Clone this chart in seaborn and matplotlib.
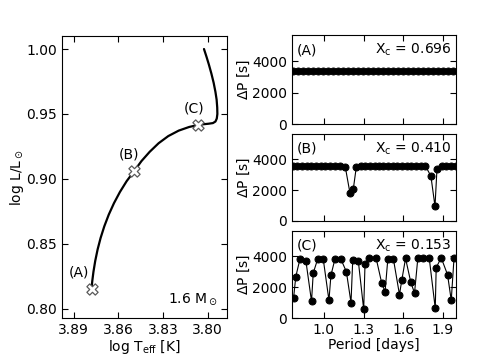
import matplotlib
matplotlib.use('Agg')
import matplotlib.pyplot as plt
import seaborn as sns

# evolutionary track (log Teff, log L/Lsun)
track_teff = [3.8781, 3.8776, 3.8768, 3.8756, 3.8740, 3.8720, 3.8695, 3.8665, 3.8630,
              3.8590, 3.8545, 3.8496, 3.8445, 3.8390, 3.8330, 3.8265, 3.8195, 3.8125,
              3.8063, 3.8030, 3.7995, 3.7965, 3.7948, 3.7939, 3.7935, 3.7936, 3.7940,
              3.7948, 3.7960, 3.7975, 3.7992, 3.8008, 3.8025]
track_logl = [0.8154, 0.8214, 0.8286, 0.8370, 0.8458, 0.8546, 0.8636, 0.8726, 0.8814,
              0.8900, 0.8983, 0.9058, 0.9138, 0.9209, 0.9275, 0.9330, 0.9372, 0.9400,
              0.9416, 0.9421, 0.9425, 0.9430, 0.9442, 0.9465, 0.9500, 0.9550, 0.9610,
              0.9670, 0.9740, 0.9810, 0.9880, 0.9940, 1.0000]

# models marked on the track
model_labels = ['(A)', '(B)', '(C)']
model_teff = [3.8781, 3.8496, 3.8063]
model_logl = [0.8154, 0.9058, 0.9416]
model_xc = ['0.696', '0.410', '0.153']

# period spacing patterns
period_a = [0.765, 0.803, 0.841, 0.879, 0.917, 0.955, 0.993, 1.031, 1.069, 1.107, 1.145,
            1.183, 1.221, 1.259, 1.297, 1.335, 1.373, 1.411, 1.449, 1.487, 1.525, 1.563,
            1.601, 1.639, 1.677, 1.715, 1.753, 1.791, 1.829, 1.867, 1.905, 1.943, 1.981]
dp_a = [3390, 3390, 3390, 3390, 3390, 3390, 3390, 3390, 3390, 3390, 3390,
        3390, 3390, 3390, 3390, 3390, 3390, 3390, 3390, 3390, 3390, 3390,
        3390, 3390, 3390, 3390, 3390, 3390, 3390, 3390, 3390, 3390, 3390]

period_b = [0.762, 0.797, 0.833, 0.869, 0.904, 0.939, 0.975, 1.010, 1.046, 1.081, 1.119,
            1.162, 1.197, 1.222, 1.245, 1.279, 1.314, 1.349, 1.385, 1.415, 1.450, 1.486,
            1.522, 1.557, 1.592, 1.628, 1.663, 1.699, 1.734, 1.769, 1.810, 1.841, 1.856,
            1.891, 1.926, 1.962, 1.997]
dp_b = [3560, 3560, 3560, 3560, 3560, 3560, 3560, 3560, 3560, 3560, 3560,
        3490, 1810, 2040, 3490, 3560, 3560, 3560, 3560, 3560, 3560, 3560,
        3560, 3560, 3560, 3560, 3560, 3560, 3560, 3560, 2910, 940, 3380,
        3560, 3560, 3560, 3560]

period_c = [0.770, 0.787, 0.818, 0.863, 0.906, 0.919, 0.952, 0.995, 1.038, 1.053, 1.084,
            1.127, 1.170, 1.205, 1.218, 1.260, 1.301, 1.311, 1.344, 1.395, 1.438, 1.463,
            1.484, 1.526, 1.572, 1.590, 1.618, 1.658, 1.686, 1.711, 1.752, 1.797, 1.843,
            1.850, 1.888, 1.936, 1.964, 1.985]
dp_c = [1290, 2690, 3810, 3730, 1080, 2920, 3810, 3810, 1150, 2770, 3850,
        3850, 3000, 1000, 3750, 3730, 560, 3480, 3890, 3890, 2250, 1710,
        3850, 3830, 1520, 2480, 3870, 2310, 1620, 3890, 3910, 3910, 620,
        3270, 3910, 2810, 1150, 3890]

sns.set_style('ticks')
plt.rcParams['font.family'] = ['DejaVu Sans']
plt.rcParams['mathtext.fontset'] = 'dejavusans'
plt.rcParams['xtick.direction'] = 'in'
plt.rcParams['ytick.direction'] = 'in'
plt.rcParams['xtick.top'] = True
plt.rcParams['ytick.right'] = True
plt.rcParams['xtick.major.size'] = 4
plt.rcParams['ytick.major.size'] = 4
plt.rcParams['axes.edgecolor'] = 'black'
plt.rcParams['axes.linewidth'] = 0.8
plt.rcParams['text.color'] = 'black'
plt.rcParams['axes.labelcolor'] = 'black'
plt.rcParams['xtick.color'] = 'black'
plt.rcParams['ytick.color'] = 'black'

fig = plt.figure(figsize=(4.8, 3.62), dpi=100)

# --- HR diagram ---
ax = fig.add_axes([0.129, 0.1215, 0.344, 0.779])
sns.lineplot(x=track_teff, y=track_logl, sort=False, estimator=None, color='black',
             lw=1.6, ax=ax)
sns.scatterplot(x=model_teff, y=model_logl, marker='X', s=65, color='white',
                edgecolor='0.35', linewidth=0.9, zorder=3, ax=ax)
label_pos = [(3.8866, 0.8277), (3.8527, 0.9186), (3.8092, 0.9539)]
for lab, (tx, ty) in zip(model_labels, label_pos):
    ax.text(tx, ty, lab, fontsize=10, ha='center', va='center')
ax.text(3.8097, 0.8075, r'1.6 M$_\odot$', fontsize=10, ha='center', va='center')
ax.set_xlim(3.898, 3.787)
ax.set_ylim(0.793, 1.01)
ax.set_xticks([3.89, 3.86, 3.83, 3.80])
ax.set_xticklabels(['3.89', '3.86', '3.83', '3.80'])
ax.set_yticks([0.80, 0.85, 0.90, 0.95, 1.00])
ax.set_yticklabels(['0.80', '0.85', '0.90', '0.95', '1.00'])
ax.set_xlabel(r'log T$_{\rm eff}$ [K]', fontsize=10, labelpad=1)
ax.set_ylabel(r'log L/L$_\odot$', fontsize=10, labelpad=0)
ax.tick_params(labelsize=10)

# --- period spacing panels ---
panel_boxes = [[0.608, 0.657, 0.342, 0.246],
               [0.608, 0.390, 0.342, 0.240],
               [0.608, 0.1215, 0.342, 0.2405]]
periods = [period_a, period_b, period_c]
spacings = [dp_a, dp_b, dp_c]
for i, box in enumerate(panel_boxes):
    axp = fig.add_axes(box)
    sns.lineplot(x=periods[i], y=spacings[i], color='black', lw=0.8, marker='o',
                 markersize=5, markeredgecolor='black', estimator=None, ax=axp)
    axp.set_xlim(0.757, 2.0)
    axp.set_ylim(0, 5650)
    axp.set_yticks([0, 2000, 4000])
    axp.set_xticks([1.0, 1.3, 1.6, 1.9])
    axp.tick_params(labelsize=10)
    axp.set_ylabel(r'$\Delta$P [s]', fontsize=10, labelpad=0)
    axp.text(0.03, 0.83, model_labels[i], fontsize=10, ha='left', va='center',
             transform=axp.transAxes)
    axp.text(0.975, 0.83, r'X$_{\rm c}$ = ' + model_xc[i], fontsize=10, ha='right',
             va='center', transform=axp.transAxes)
    if i < 2:
        axp.set_xticklabels([])
    else:
        axp.set_xticklabels(['1.0', '1.3', '1.6', '1.9'])
        axp.set_xlabel('Period [days]', fontsize=10, labelpad=1)

fig.savefig('out.png', dpi=100)
